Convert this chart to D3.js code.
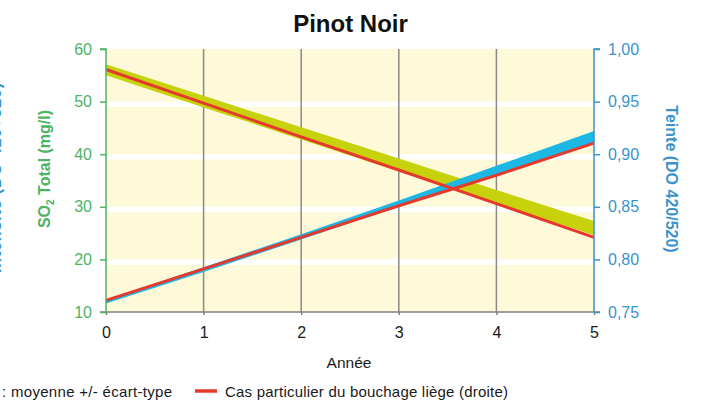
<!DOCTYPE html>
<html>
<head>
<meta charset="utf-8">
<script src="https://cdn.jsdelivr.net/npm/d3@7"></script>
<style>
  body { margin: 0; background: #fff; }
  svg { display: block; font-family: "Liberation Sans", Arial, sans-serif; }
</style>
</head>
<body>
<div id="chart"></div>
<script>
var width = 706, height = 403;
var margin = {top: 49, right: 112, bottom: 91, left: 106};

// Données
var years = [0, 1, 2, 3, 4, 5];
// SO2 total (axe gauche) : moyenne +/- écart-type
var so2Upper = [57.1, 51.1, 45.1, 39.2, 33.2, 27.3];
var so2Lower = [55.0, 48.9, 42.8, 36.7, 30.7, 24.6];
var so2Cork  = [56.1, 49.7, 43.3, 37.0, 30.6, 24.2];
// Teinte (axe droit) : moyenne +/- écart-type
var teinteUpper = [0.7615, 0.7925, 0.824, 0.856, 0.889, 0.922];
var teinteLower = [0.758, 0.788, 0.819, 0.850, 0.880, 0.911];
var teinteCork  = [0.761, 0.791, 0.821, 0.851, 0.880, 0.9105];

var leftTicks = [10, 20, 30, 40, 50, 60];
var rightTicks = [0.75, 0.80, 0.85, 0.90, 0.95, 1.00];
var xTicks = [0, 1, 2, 3, 4, 5];

var green = '#4db365', blue = '#3a93cb', red = '#e5392e',
    yellow = '#c8d20c', cyan = '#1db7e6';

var svg = d3.select('#chart').append('svg')
    .attr('width', width).attr('height', height);

var iw = width - margin.left - margin.right,
    ih = height - margin.top - margin.bottom;

var x = d3.scaleLinear().domain([0, 5]).range([margin.left, margin.left + iw]);
var yL = d3.scaleLinear().domain([10, 60]).range([margin.top + ih, margin.top]);
var yR = d3.scaleLinear().domain([0.75, 1.00]).range([margin.top + ih, margin.top]);

var fr = d3.formatLocale({decimal: ',', thousands: ' ', grouping: [3], currency: ['', '€']});

// Fond du graphique
svg.append('rect')
    .attr('x', x(0)).attr('y', yL(60))
    .attr('width', x(5) - x(0)).attr('height', yL(10) - yL(60))
    .attr('fill', '#fef9d8');

// Bandes blanches horizontales
svg.append('g').selectAll('rect')
    .data(leftTicks.slice(1, -1))
    .enter().append('rect')
    .attr('x', x(0)).attr('width', x(5) - x(0))
    .attr('y', d => yL(d)).attr('height', 5.5)
    .attr('fill', '#fff');

// Grille verticale
svg.append('g').selectAll('line')
    .data(xTicks.slice(1, -1))
    .enter().append('line')
    .attr('x1', d => x(d)).attr('x2', d => x(d))
    .attr('y1', yL(60)).attr('y2', yL(10))
    .attr('stroke', '#8a8a8a').attr('stroke-width', 1.5);

// Bandes moyenne +/- écart-type
var areaL = d3.area().x((d, i) => x(years[i])).y0((d, i) => yL(so2Lower[i])).y1(d => yL(d));
var areaR = d3.area().x((d, i) => x(years[i])).y0((d, i) => yR(teinteLower[i])).y1(d => yR(d));
svg.append('path').datum(so2Upper).attr('d', areaL).attr('fill', yellow);
svg.append('path').datum(teinteUpper).attr('d', areaR).attr('fill', cyan);

// Cas particulier du bouchage liège
var lineL = d3.line().x((d, i) => x(years[i])).y(d => yL(d));
var lineR = d3.line().x((d, i) => x(years[i])).y(d => yR(d));
svg.append('path').datum(so2Cork).attr('d', lineL)
    .attr('fill', 'none').attr('stroke', red).attr('stroke-width', 3);
svg.append('path').datum(teinteCork).attr('d', lineR)
    .attr('fill', 'none').attr('stroke', red).attr('stroke-width', 3);

// Axe X
var gx = svg.append('g')
    .attr('transform', `translate(0,${yL(10)})`)
    .call(d3.axisBottom(x).tickValues(xTicks).tickSize(3).tickPadding(12).tickFormat(d3.format('d')));
gx.select('.domain').attr('stroke', '#808080').attr('stroke-width', 1.5)
    .attr('d', `M${x(0) - 6},0H${x(5) + 6}`);
gx.selectAll('.tick line').attr('stroke', '#808080').attr('stroke-width', 1.5);
gx.selectAll('.tick text').attr('fill', '#1a1a1a').style('font-size', '16px');

// Axe gauche
var gl = svg.append('g')
    .attr('transform', `translate(${x(0)},0)`)
    .call(d3.axisLeft(yL).tickValues(leftTicks).tickSize(6).tickPadding(8));
gl.select('.domain').attr('stroke', green).attr('stroke-width', 1.5)
    .attr('d', `M-6,${yL(60)}H0V${yL(10)}`);
gl.selectAll('.tick line').attr('stroke', green).attr('stroke-width', 1.5);
gl.selectAll('.tick text').attr('fill', green).style('font-size', '16px');

// Axe droit
var gr = svg.append('g')
    .attr('transform', `translate(${x(5)},0)`)
    .call(d3.axisRight(yR).tickValues(rightTicks).tickSize(6).tickPadding(8).tickFormat(fr.format('.2f')));
gr.select('.domain').attr('stroke', blue).attr('stroke-width', 1.5)
    .attr('d', `M6,${yR(1)}H0V${yR(0.75)}`);
gr.selectAll('.tick line').attr('stroke', blue).attr('stroke-width', 1.5);
gr.selectAll('.tick text').attr('fill', blue).style('font-size', '16px');

// Titre
svg.append('text')
    .attr('x', 350.5).attr('y', 31.5)
    .attr('text-anchor', 'middle')
    .style('font-size', '24px').style('font-weight', 'bold').attr('fill', '#111')
    .text('Pinot Noir');

// Titres des axes
svg.append('text')
    .attr('transform', 'translate(50,169) rotate(-90)')
    .attr('text-anchor', 'middle')
    .style('font-size', '16px').style('font-weight', 'bold').attr('fill', green)
    .html('SO<tspan dy="4" font-size="10">2</tspan><tspan dy="-4"> Total (mg/l)</tspan>');

svg.append('text')
    .attr('transform', 'translate(666,179) rotate(90)')
    .attr('text-anchor', 'middle')
    .style('font-size', '16px').style('font-weight', 'bold').attr('fill', blue)
    .text('Teinte (DO 420/520)');

// Titre de l'axe de couleur, coupé au bord gauche comme dans l'original
svg.append('text')
    .attr('transform', 'translate(1,178) rotate(-90)')
    .attr('text-anchor', 'middle')
    .style('font-size', '16px').style('font-weight', 'bold').attr('fill', blue)
    .attr('textLength', 190)
    .text('Intensité (DO 420+520)');

svg.append('text')
    .attr('x', 349).attr('y', 367.5)
    .attr('text-anchor', 'middle')
    .style('font-size', '15.5px').attr('fill', '#1a1a1a')
    .text('Année');

// Légende
svg.append('text')
    .attr('x', 172).attr('y', 396.5)
    .attr('text-anchor', 'end')
    .style('font-size', '15px').attr('fill', '#1a1a1a')
    .attr('textLength', 170)
    .text(': moyenne +/- écart-type');

svg.append('line')
    .attr('x1', 195).attr('x2', 217).attr('y1', 391).attr('y2', 391)
    .attr('stroke', red).attr('stroke-width', 3.5);

svg.append('text')
    .attr('x', 225).attr('y', 396.5)
    .style('font-size', '15px').attr('fill', '#1a1a1a')
    .attr('textLength', 283)
    .text('Cas particulier du bouchage liège (droite)');
</script>
</body>
</html>
